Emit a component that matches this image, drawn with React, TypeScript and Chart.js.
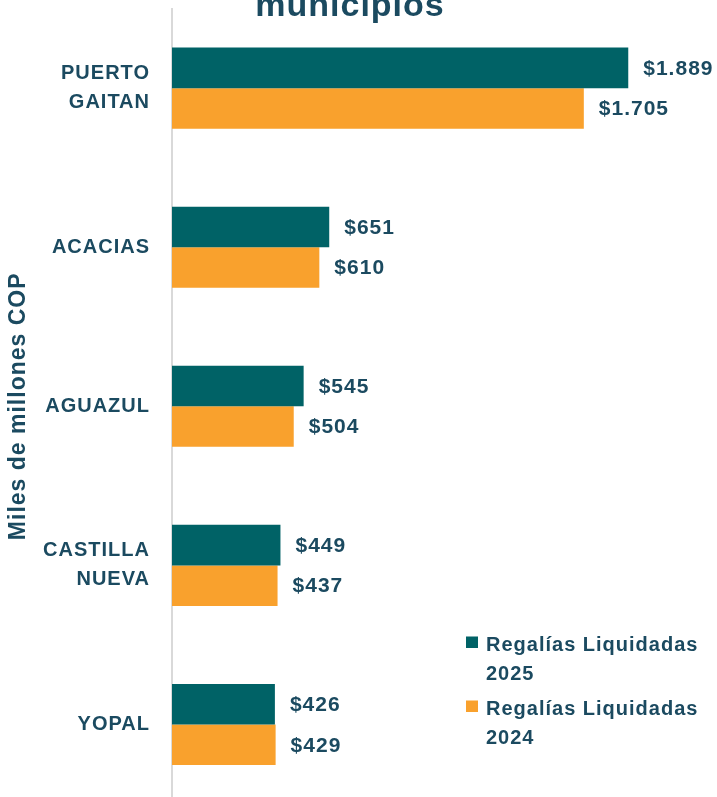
import React, { useEffect, useRef } from "react";
import { Chart, registerables } from "chart.js";

Chart.register(...registerables);

const categories: (string | string[])[] = [["PUERTO", "GAITAN"], "ACACIAS", "AGUAZUL", ["CASTILLA", "NUEVA"], "YOPAL"];
const seriesLabels = ["Regalías Liquidadas 2025", "Regalías Liquidadas 2024"];
const values2025 = [1889, 651, 545, 449, 426];
const values2024 = [1705, 610, 504, 437, 429];
const titleText = "municipios";
const axisTitle = "Miles de millones COP";

const TEAL = "#006266";
const ORANGE = "#F9A12D";
const TEXT = "#1B4A60";
const FONT = "'Liberation Sans', Arial, sans-serif";
const SHIFT = 17; // canvas starts above the page

const fmt = (v: number) => "$" + String(v).replace(/\B(?=(\d{3})+(?!\d))/g, ".");

const spacingPlugin = {
  id: "spacing",
  beforeLayout(chart: any) {
    chart.ctx.letterSpacing = "1px";
  },
  beforeDraw(chart: any) {
    chart.ctx.letterSpacing = "1px";
  },
};

const labelsPlugin = {
  id: "valueLabels",
  afterDraw(chart: any) {
    const ctx = chart.ctx;
    const area = chart.chartArea;
    ctx.save();
    ctx.letterSpacing = "1px";
    ctx.fillStyle = TEXT;
    ctx.font = `bold 21px ${FONT}`;
    ctx.textAlign = "left";
    ctx.textBaseline = "middle";
    chart.data.datasets.forEach((ds: any, i: number) => {
      const meta = chart.getDatasetMeta(i);
      meta.data.forEach((bar: any, j: number) => {
        ctx.fillText(fmt(ds.data[j]), bar.x + 15, bar.y + 1);
      });
    });
    // legend inside plot area, bottom right
    ctx.font = `bold 20px ${FONT}`;
    ctx.textBaseline = "alphabetic";
    const x0 = area.left + 294;
    let top = area.bottom - 167.5;
    chart.data.datasets.forEach((ds: any) => {
      ctx.fillStyle = ds.backgroundColor;
      ctx.fillRect(x0, top, 12, 11.5);
      const label: string = ds.label;
      const cut = label.lastIndexOf(" ");
      const lines = [label.slice(0, cut), label.slice(cut + 1)];
      ctx.fillStyle = TEXT;
      lines.forEach((ln, k) => {
        ctx.fillText(ln, x0 + 20, top + 14.5 + k * 28.5);
      });
      top += 64;
    });
    ctx.restore();
  },
};

export default function App() {
  const ref = useRef<HTMLCanvasElement>(null);
  useEffect(() => {
    if (!ref.current) return;
    const chart = new Chart(ref.current, {
      type: "bar",
      data: {
        labels: categories,
        datasets: [
          { label: seriesLabels[0], data: values2025, backgroundColor: TEAL, borderWidth: 0 },
          { label: seriesLabels[1], data: values2024, backgroundColor: ORANGE, borderWidth: 0 },
        ],
      },
      options: {
        indexAxis: "y",
        responsive: false,
        animation: false,
        datasets: { bar: { categoryPercentage: 0.51, barPercentage: 1 } },
        layout: { padding: { left: 0, right: 17, top: 0, bottom: 0 } },
        plugins: {
          legend: { display: false },
          tooltip: { enabled: false },
          title: {
            display: true,
            text: titleText,
            color: TEXT,
            font: { family: FONT, size: 34, weight: "bold", lineHeight: 1.2 },
            padding: { top: 3, bottom: -18.2 },
          },
        },
        scales: {
          x: {
            display: false,
            min: 0,
            max: 2186,
          },
          y: {
            afterFit: (scale: any) => {
              scale.width = 172;
              scale.paddingTop = 0;
              scale.paddingBottom = 0;
            },
            grid: { display: false, drawTicks: false },
            border: { display: true, color: "#D9D9D9", width: 2 },
            ticks: {
              color: TEXT,
              padding: 22,
              font: { family: FONT, size: 20, weight: "bold", lineHeight: 1.45 },
            },
            title: {
              display: true,
              text: axisTitle,
              color: TEXT,
              padding: { top: 5, bottom: 0 },
              font: { family: FONT, size: 23, weight: "bold", lineHeight: 1.2 },
            },
          },
        },
      },
      plugins: [spacingPlugin, labelsPlugin],
    });
    return () => chart.destroy();
  }, []);
  return (
    <div style={{ position: "fixed", left: 0, top: -SHIFT, width: 717, height: 821, background: "#fff" }}>
      <canvas ref={ref} width={717} height={821} style={{ display: "block" }} />
    </div>
  );
}
